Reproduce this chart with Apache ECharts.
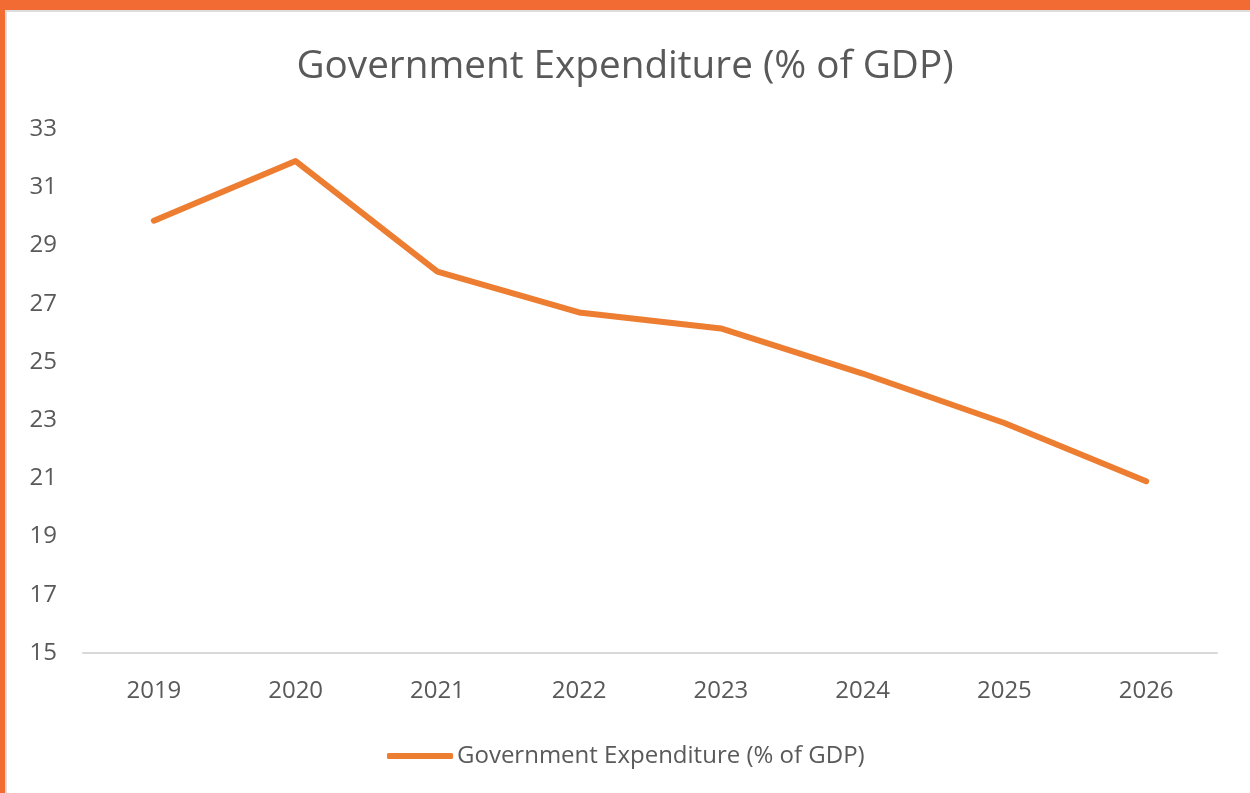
<!DOCTYPE html>
<html>
<head>
<meta charset="utf-8">
<script src="https://cdn.jsdelivr.net/npm/echarts@6/dist/echarts.min.js"></script>
<style>
html,body{margin:0;padding:0;width:1250px;height:793px;overflow:hidden;background:#fff;}
#frame{position:absolute;left:0;top:0;width:1250px;height:793px;box-sizing:border-box;border-top:10px solid #F26B32;border-left:5px solid #F26B32;}
#inner{position:absolute;left:0;top:0;right:0;bottom:0;border-top:2px solid #dcdcdc;border-left:2px solid #dcdcdc;}
#chart{position:absolute;left:0;top:0;width:1250px;height:793px;}
</style>
</head>
<body>
<div id="chart"></div>
<div id="frame"><div id="inner"></div></div>
<script>
const categories = ['2019','2020','2021','2022','2023','2024','2025','2026'];
const expenditure = [29.85, 31.9, 28.1, 26.7, 26.15, 24.6, 22.9, 20.9];
const seriesName = 'Government Expenditure (% of GDP)';
const yTicks = [15,17,19,21,23,25,27,29,31,33];

const chart = echarts.init(document.getElementById('chart'));
chart.setOption({
  animation:false,
  title:{text:'Government Expenditure (% of GDP)',left:'center',top:42,
    textStyle:{fontFamily:'Open Sans',fontSize:38.7,fontWeight:'normal',color:'#595959'}},
  legend:{bottom:20,left:382,itemWidth:66,itemHeight:6,icon:'roundRect',itemGap:4,
    textStyle:{fontFamily:'Open Sans',fontSize:24,color:'#595959',padding:[0,0,0,-1]},data:[seriesName]},
  grid:{left:83,right:33,top:129,bottom:140},
  xAxis:{type:'category',data:categories,boundaryGap:true,
    axisLine:{lineStyle:{color:'#d9d9d9',width:2}},axisTick:{show:false},
    axisLabel:{fontFamily:'Open Sans',fontSize:24,color:'#595959',margin:26}},
  yAxis:{type:'value',min:yTicks[0],max:yTicks[yTicks.length-1],interval:2,
    axisLine:{show:false},axisTick:{show:false},splitLine:{show:false},
    axisLabel:{fontFamily:'Open Sans',fontSize:24,color:'#595959',margin:26}},
  series:[{name:seriesName,type:'line',data:expenditure,symbol:'none',
    lineStyle:{color:'#ED7D31',width:6,cap:'round',join:'round'},itemStyle:{color:'#ED7D31'}}]
});
</script>
</body>
</html>
